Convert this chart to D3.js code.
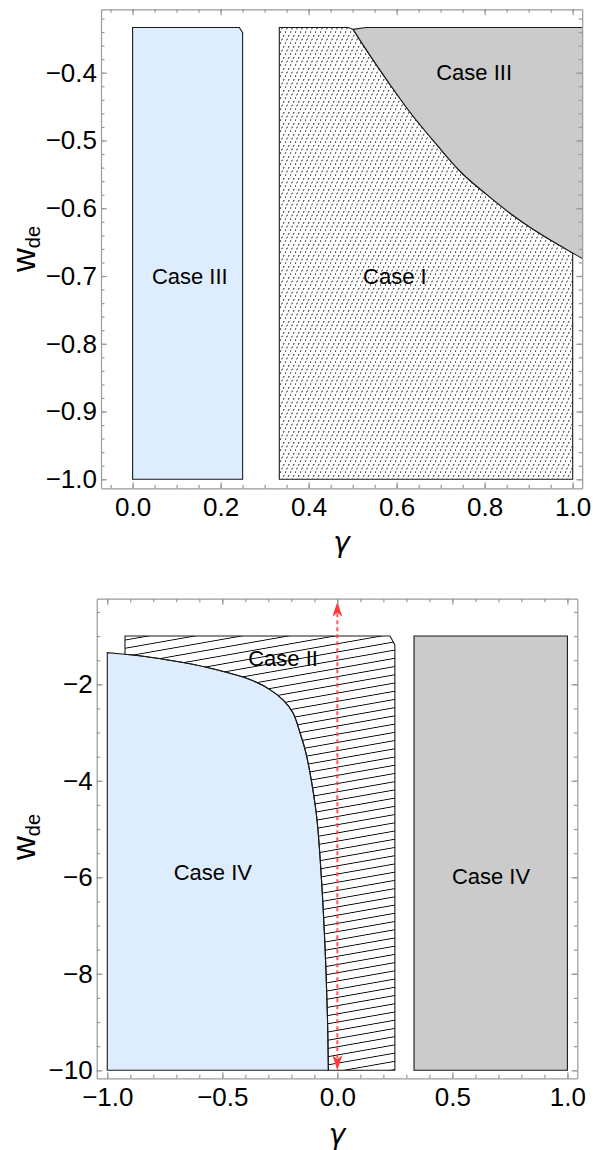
<!DOCTYPE html>
<html>
<head>
<meta charset="utf-8">
<script src="https://cdn.jsdelivr.net/npm/d3@7"></script>
<style>
  body { margin: 0; background: #fff; }
  svg text { font-family: "Liberation Sans", Arial, sans-serif; }
</style>
</head>
<body>
<svg id="chart"></svg>
<script>
// ---------- upper panel data (gamma, w_de) ----------
const upperGammaRange = [-0.0718, 1.0216];
const upperWRange = [-1.0133, -0.3064];
const upperXTicks = [0, 0.2, 0.4, 0.6, 0.8, 1.0];
const upperYTicks = [-1.0, -0.9, -0.8, -0.7, -0.6, -0.5, -0.4];

// Case III strip on the left
const upperStrip = [[0, -1], [0.25, -1], [0.25, -0.341], [0.2425, -0.3333], [0, -0.3333]];
// boundary between Case I and Case III (right)
const upperBoundaryGamma = [0.501, 0.539, 0.578, 0.630, 0.692, 0.748, 0.805, 0.857, 0.903, 0.960, 1.0, 1.0216];
const upperBoundaryW = [-0.336, -0.374, -0.411, -0.458, -0.507, -0.548, -0.580, -0.607, -0.628, -0.651, -0.666, -0.674];
// Case I box corners
const upperCaseIGamma = [1 / 3, 1.0];
const upperCaseIW = [-1.0, -0.3333];

const upperLabels = ["Case III", "Case I", "Case III"];
const upperLabelGamma = [0.130, 0.596, 0.776];
const upperLabelW = [-0.700, -0.700, -0.400];

// ---------- lower panel data ----------
const lowerGammaRange = [-1.046, 1.043];
const lowerWRange = [-10.166, -0.226];
const lowerXTicks = [-1.0, -0.5, 0, 0.5, 1.0];
const lowerYTicks = [-10, -8, -6, -4, -2];

// boundary between Case IV (left) and Case II
const lowerBoundaryGamma = [-0.923, -0.814, -0.670, -0.524, -0.380, -0.293, -0.235, -0.193, -0.162, -0.140, -0.121, -0.090, -0.068, -0.053, -0.043, -0.039];
const lowerBoundaryW = [-1.378, -1.44, -1.55, -1.70, -1.90, -2.11, -2.33, -2.59, -3.01, -3.36, -3.78, -4.74, -6.12, -7.51, -8.89, -10];
const lowerBlueCorner = [[-1, -10], [-1, -1.345]];
const lowerCaseIIEdge = [[-0.923, -1.0], [0.229, -1.0], [0.25, -1.185], [0.25, -10]];
const lowerGrayBox = [[1 / 3, -10], [1, -10], [1, -1], [1 / 3, -1]];
const arrowGamma = 0;
const arrowW = [-10, -0.29];

const lowerLabels = ["Case II", "Case IV", "Case IV"];
const lowerLabelGamma = [-0.236, -0.541, 0.668];
const lowerLabelW = [-1.455, -5.89, -5.97];

// ---------- setup ----------
const width = 603, height = 1150;
const svg = d3.select("#chart").attr("width", width).attr("height", height);
const defs = svg.append("defs");

// dotted diagonal hatch used for Case I
const dotHatch = defs.append("pattern")
    .attr("id", "dotHatch")
    .attr("patternUnits", "userSpaceOnUse")
    .attr("width", 5).attr("height", 11);
dotHatch.append("line")
    .attr("x1", 0).attr("y1", 11).attr("x2", 5).attr("y2", 0)
    .attr("stroke", "#111").attr("stroke-width", 1)
    .attr("stroke-dasharray", "1.8 2.23");

// line hatch used for Case II
const lineHatch = defs.append("pattern")
    .attr("id", "lineHatch")
    .attr("patternUnits", "userSpaceOnUse")
    .attr("width", 60).attr("height", 8.1)
    .attr("patternTransform", "rotate(-10)");
lineHatch.append("line")
    .attr("x1", 0).attr("y1", 4).attr("x2", 60).attr("y2", 4)
    .attr("stroke", "#000").attr("stroke-width", 1);

const blue = "#ddedfd", gray = "#cbcbcb", edge = "#1a1a1a", frameColor = "#9a9a9a";

function pathFrom(x, y, straight, curve) {
    const line = d3.line().x(d => x(d[0])).y(d => y(d[1]));
    let p = straight.length ? line(straight) : "";
    if (curve) {
        const c = d3.line().x(d => x(d[0])).y(d => y(d[1])).curve(d3.curveCatmullRom.alpha(0.5))(curve);
        p = p ? p + c.replace(/^M/, "L") : c;
    }
    return p;
}

function drawFrame(g, x, y, xMajor, yMajor, xMinor, yMinor, xFmt, yFmt) {
    const [xl, xr] = x.range();
    const [yb, yt] = y.range();
    const axes = [
        [d3.axisBottom, `translate(0,${yb})`, x, xMajor, xMinor, xFmt, 9],
        [d3.axisTop, `translate(0,${yt})`, x, xMajor, xMinor, null, 0],
        [d3.axisLeft, `translate(${xl},0)`, y, yMajor, yMinor, yFmt, 4],
        [d3.axisRight, `translate(${xr},0)`, y, yMajor, yMinor, null, 0]
    ];
    axes.forEach(([fn, tr, sc, major, minor, fmt, pad]) => {
        const a = g.append("g").attr("transform", tr)
            .call(fn(sc).tickValues(major).tickSizeInner(-6).tickSizeOuter(0).tickPadding(pad)
                .tickFormat(fmt ? d3.format(fmt) : ""));
        g.append("g").attr("transform", tr)
            .call(fn(sc).tickValues(minor).tickSizeInner(-3.5).tickSizeOuter(0).tickFormat(""))
            .select(".domain").remove();
        a.attr("font-size", 26).attr("font-family", null);
        a.selectAll("text").attr("fill", "#000");
    });
    g.selectAll(".domain, .tick line").attr("stroke", frameColor).attr("stroke-width", 1.2);
}

function drawLabels(g, x, y, names, gs, ws) {
    g.selectAll(null).data(names).enter().append("text")
        .attr("x", (d, i) => x(gs[i]))
        .attr("y", (d, i) => y(ws[i]))
        .attr("dy", "0.35em")
        .attr("text-anchor", "middle")
        .attr("font-size", 22)
        .text(d => d);
}

function axisTitles(x, y, gammaBaseline, wCenter) {
    svg.append("text")
        .attr("x", (x.range()[0] + x.range()[1]) / 2)
        .attr("y", gammaBaseline)
        .attr("text-anchor", "middle")
        .attr("font-size", 28)
        .attr("font-style", "italic")
        .style("font-family", "'DejaVu Sans', sans-serif")
        .text("γ");
    const t = svg.append("text")
        .attr("transform", `translate(35,${wCenter}) rotate(-90)`)
        .attr("text-anchor", "middle")
        .attr("font-size", 33);
    t.append("tspan").text("w");
    t.append("tspan").attr("font-size", 20).attr("dy", 5).text("de");
}

// ---------- upper panel ----------
{
    const x = d3.scaleLinear().domain(upperGammaRange).range([101, 582.2]);
    const y = d3.scaleLinear().domain(upperWRange).range([488.3, 9.3]);
    defs.append("clipPath").attr("id", "clipUpper").append("rect")
        .attr("x", 101).attr("y", 9.3).attr("width", 481.2).attr("height", 479);
    const g = svg.append("g");
    const plot = g.append("g").attr("clip-path", "url(#clipUpper)");

    const boundary = upperBoundaryGamma.map((v, i) => [v, upperBoundaryW[i]]);
    const inside = boundary.filter(d => d[0] <= upperCaseIGamma[1]).reverse();
    const [g0, g1] = upperCaseIGamma, [w0, w1] = upperCaseIW;

    plot.append("path")
        .attr("d", pathFrom(x, y, upperStrip) + "Z")
        .attr("fill", blue).attr("stroke", edge).attr("stroke-width", 1.1);

    plot.append("path")
        .attr("d", pathFrom(x, y, [[g0, w0], [g1, w0]], inside) +
            pathFrom(x, y, [[0.49, w1], [g0, w1]]).replace(/^M/, "L") + "Z")
        .attr("fill", "url(#dotHatch)").attr("stroke", edge).attr("stroke-width", 1.1);

    const last = boundary[boundary.length - 1];
    plot.append("path")
        .attr("d", pathFrom(x, y, [boundary[0], [0.53, w1], [last[0] + 0.01, w1], [last[0] + 0.01, last[1]]],
            boundary.slice().reverse()) + "Z")
        .attr("fill", gray).attr("stroke", edge).attr("stroke-width", 1.1);

    drawLabels(g, x, y, upperLabels, upperLabelGamma, upperLabelW);
    drawFrame(g, x, y, upperXTicks, upperYTicks,
        d3.range(-0.05, 1.001, 0.05), d3.range(-1.0, -0.319, 0.02), ".1f", ".1f");
    axisTitles(x, y, 552, 249);
}

// ---------- lower panel ----------
{
    const x = d3.scaleLinear().domain(lowerGammaRange).range([96.7, 577.3]);
    const y = d3.scaleLinear().domain(lowerWRange).range([1078.3, 598.7]);
    defs.append("clipPath").attr("id", "clipLower").append("rect")
        .attr("x", 96.7).attr("y", 598.7).attr("width", 480.6).attr("height", 479.6);
    const g = svg.append("g");
    const plot = g.append("g").attr("clip-path", "url(#clipLower)");

    const boundary = lowerBoundaryGamma.map((v, i) => [v, lowerBoundaryW[i]]);

    plot.append("path")
        .attr("d", pathFrom(x, y, lowerBlueCorner, boundary) + "Z")
        .attr("fill", blue).attr("stroke", edge).attr("stroke-width", 1.1);

    plot.append("path")
        .attr("d", pathFrom(x, y, lowerCaseIIEdge, boundary.slice().reverse()) + "Z")
        .attr("fill", "url(#lineHatch)").attr("stroke", edge).attr("stroke-width", 1.1);

    plot.append("path")
        .attr("d", pathFrom(x, y, lowerGrayBox) + "Z")
        .attr("fill", gray).attr("stroke", edge).attr("stroke-width", 1.1);

    drawLabels(g, x, y, lowerLabels, lowerLabelGamma, lowerLabelW);

    // red double arrow along gamma = 0
    const ax = x(arrowGamma), yLo = y(arrowW[0]), yHi = y(arrowW[1]);
    const red = "#ff3b3b";
    g.append("line")
        .attr("x1", ax).attr("x2", ax).attr("y1", yLo - 12).attr("y2", yHi + 12)
        .attr("stroke", red).attr("stroke-width", 2).attr("stroke-dasharray", "4 3")
        .attr("opacity", 0.85);
    g.append("path")
        .attr("d", `M${ax},${yHi}L${ax - 5},${yHi + 15}L${ax},${yHi + 11}L${ax + 5},${yHi + 15}Z`)
        .attr("fill", red);
    g.append("path")
        .attr("d", `M${ax},${yLo}L${ax - 5},${yLo - 15}L${ax},${yLo - 11}L${ax + 5},${yLo - 15}Z`)
        .attr("fill", red);

    drawFrame(g, x, y, lowerXTicks, lowerYTicks,
        d3.range(-1.0, 1.001, 0.1), d3.range(-10, -0.49, 0.5), ".1f", "d");
    axisTitles(x, y, 1144, 837);
}
</script>
</body>
</html>
